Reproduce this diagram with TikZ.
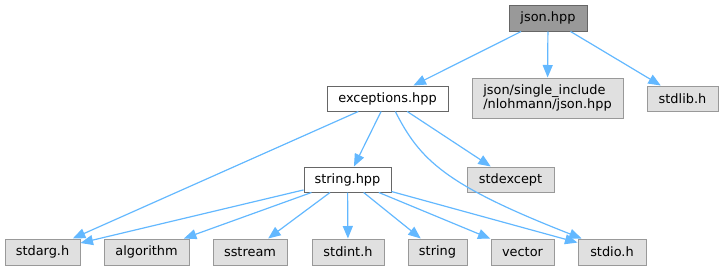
\documentclass[tikz,border=0pt]{standalone}
\usepackage{fontspec}
\setmainfont{DejaVu Sans}
\usetikzlibrary{arrows.meta}
\definecolor{edgeblue}{HTML}{63B8FF}
\definecolor{grayfill}{HTML}{E0E0E0}
\definecolor{grayline}{HTML}{999999}
\definecolor{darkline}{HTML}{666666}
\definecolor{rootfill}{HTML}{999999}
\tikzset{
  box/.style={draw=darkline, line width=1pt, inner sep=0pt, minimum height=25pt,
    font=\fontsize{12.9}{14.5}\selectfont, text=black},
  sysbox/.style={box, draw=grayline, fill=grayfill},
  localbox/.style={box, fill=white},
  rootbox/.style={box, fill=rootfill},
  dep/.style={draw=edgeblue, line width=1.2pt, -{Triangle[length=12.5pt,width=10pt]}}
}
\begin{document}
\begin{tikzpicture}[x=1pt,y=-1pt]
\useasboundingbox (0,0) rectangle (723,271);
\node[rootbox, minimum width=78pt, minimum height=26pt] (json) at (548,18) {json.hpp};
\node[localbox, minimum width=121pt] (exc) at (387.5,98.5) {exceptions.hpp};
\node[sysbox, minimum width=151pt, minimum height=40pt, align=left] (single) at (547.5,98) {json/single\_include\\/nlohmann/json.hpp};
\node[sysbox, minimum width=71pt] (stdlib) at (682.5,98.5) {stdlib.h};
\node[localbox, minimum width=87pt] (strh) at (347.5,179.5) {string.hpp};
\node[sysbox, minimum width=87pt] (stdexcept) at (510.5,179.5) {stdexcept};
\node[sysbox, minimum width=75pt, minimum height=26pt] (stdarg) at (42.5,252) {stdarg.h};
\node[sysbox, minimum width=85pt, minimum height=26pt] (algorithm) at (146.5,252) {algorithm};
\node[sysbox, minimum width=74pt, minimum height=26pt] (sstream) at (250,252) {sstream};
\node[sysbox, minimum width=72pt, minimum height=26pt] (stdint) at (348,252) {stdint.h};
\node[sysbox, minimum width=59pt, minimum height=26pt] (string) at (437.5,252) {string};
\node[sysbox, minimum width=63pt, minimum height=26pt] (vector) at (522.5,252) {vector};
\node[sysbox, minimum width=68pt, minimum height=26pt] (stdio) at (612,252) {stdio.h};

\draw[dep] (json) -- (exc);
\draw[dep] (json) -- (single);
\draw[dep] (json) -- (stdlib);
\draw[dep] (exc) -- (stdarg);
\draw[dep] (exc) -- (strh);
\draw[dep] (exc) -- (stdexcept);
\draw[dep] (exc.-59) .. controls (420,160) and (445,185) .. (stdio.156);
\draw[dep] (strh) -- (stdarg);
\draw[dep] (strh) -- (algorithm);
\draw[dep] (strh) -- (sstream);
\draw[dep] (strh) -- (stdint);
\draw[dep] (strh) -- (string);
\draw[dep] (strh) -- (vector);
\draw[dep] (strh) -- (stdio);
\end{tikzpicture}
\end{document}
